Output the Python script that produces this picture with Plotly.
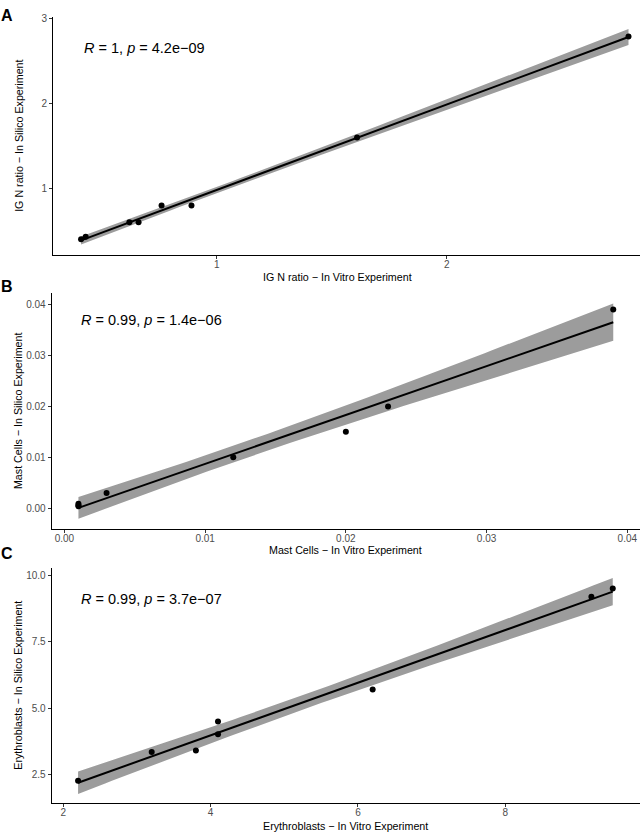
import numpy as np
import plotly.graph_objects as go

# ---------------- data ----------------
ig_vitro = [0.41, 0.43, 0.62, 0.66, 0.76, 0.89, 1.61, 2.79]
ig_silico = [0.40, 0.43, 0.60, 0.60, 0.80, 0.80, 1.60, 2.79]

mast_vitro = [0.001, 0.001, 0.001, 0.003, 0.012, 0.020, 0.023, 0.039]
mast_silico = [0.0004, 0.0006, 0.0009, 0.003, 0.010, 0.015, 0.020, 0.039]

ery_vitro = [2.20, 3.20, 3.80, 4.10, 4.10, 6.20, 9.17, 9.46]
ery_silico = [2.28, 3.36, 3.42, 4.51, 4.03, 5.71, 9.19, 9.50]

stat_labels = ["<i>R</i> = 1, <i>p</i> = 4.2e\u221209",
               "<i>R</i> = 0.99, <i>p</i> = 1.4e\u221206",
               "<i>R</i> = 0.99, <i>p</i> = 3.7e\u221207"]
x_titles = ["IG N ratio \u2212 In Vitro Experiment",
            "Mast Cells \u2212 In Vitro Experiment",
            "Erythroblasts \u2212 In Vitro Experiment"]
y_titles = ["IG N ratio \u2212 In Silico Experiment",
            "Mast Cells \u2212 In Silico Experiment",
            "Erythroblasts \u2212 In Silico Experiment"]
panel_letters = ["A", "B", "C"]

a_xticks = [1, 2]; a_xtext = ["1", "2"]
a_yticks = [1, 2, 3]; a_ytext = ["1", "2", "3"]
b_xticks = [0.0, 0.01, 0.02, 0.03, 0.04]; b_xtext = ["0.00", "0.01", "0.02", "0.03", "0.04"]
b_yticks = [0.0, 0.01, 0.02, 0.03, 0.04]; b_ytext = ["0.00", "0.01", "0.02", "0.03", "0.04"]
c_xticks = [2, 4, 6, 8]; c_xtext = ["2", "4", "6", "8"]
c_yticks = [2.5, 5.0, 7.5, 10.0]; c_ytext = ["2.5", "5.0", "7.5", "10.0"]

# t quantiles (0.975) by degrees of freedom
T975 = {1: 12.706, 2: 4.303, 3: 3.182, 4: 2.776, 5: 2.571, 6: 2.447,
        7: 2.365, 8: 2.306, 9: 2.262, 10: 2.228}

W, H = 642, 833
FONT = "Liberation Sans, Arial, sans-serif"


def lm_band(x, y):
    x = np.asarray(x, float); y = np.asarray(y, float)
    n = len(x)
    b1, b0 = np.polyfit(x, y, 1)
    resid = y - (b0 + b1 * x)
    s = np.sqrt(np.sum(resid ** 2) / (n - 2))
    xbar = x.mean(); sxx = np.sum((x - xbar) ** 2)
    xs = np.linspace(x.min(), x.max(), 80)
    yh = b0 + b1 * xs
    se = s * np.sqrt(1 / n + (xs - xbar) ** 2 / sxx)
    t = T975[n - 2]
    return xs, yh, yh - t * se, yh + t * se


fig = go.Figure()

# pixel layout of panels (left, right, top, bottom)
panels = [
    dict(x=ig_vitro, y=ig_silico, px=(53, 640, 13.3, 252), xr=[0.288, 2.84], yr=[0.218, 3.016],
         xt=(a_xticks, a_xtext), yt=(a_yticks, a_ytext), lab=(7, 12), stat=(81.7, 44),
         xtitle=(338, 274), ytitle=(19, 132.5)),
    dict(x=mast_vitro, y=mast_silico, px=(51.7, 640, 290.7, 527.7), xr=[-0.0009, 0.0409], yr=[-0.0041, 0.0422],
         xt=(b_xticks, b_xtext), yt=(b_yticks, b_ytext), lab=(7, 283.5), stat=(79, 318),
         xtitle=(345, 548.5), ytitle=(18, 409)),
    dict(x=ery_vitro, y=ery_silico, px=(51.7, 640, 566.7, 803.3), xr=[1.842, 9.83], yr=[1.43, 10.27],
         xt=(c_xticks, c_xtext), yt=(c_yticks, c_ytext), lab=(7, 552.5), stat=(79, 598),
         xtitle=(345, 825.7), ytitle=(18, 685)),
]

annotations = []
for i, p in enumerate(panels):
    k = "" if i == 0 else str(i + 1)
    xa, ya = "x" + k, "y" + k
    xs, yh, lo, hi = lm_band(p["x"], p["y"])
    fig.add_trace(go.Scatter(
        x=np.concatenate([xs, xs[::-1]]), y=np.concatenate([hi, lo[::-1]]),
        fill="toself", fillcolor="#9c9c9c", line=dict(width=0), mode="lines",
        hoverinfo="skip", showlegend=False, xaxis=xa, yaxis=ya))
    fig.add_trace(go.Scatter(x=xs, y=yh, mode="lines", line=dict(color="black", width=2),
                             showlegend=False, xaxis=xa, yaxis=ya))
    fig.add_trace(go.Scatter(x=p["x"], y=p["y"], mode="markers",
                             marker=dict(color="black", size=6), showlegend=False,
                             xaxis=xa, yaxis=ya))
    l, r, t, b = p["px"]
    axcommon = dict(showline=True, linecolor="black", linewidth=1, ticks="outside",
                    ticklen=3, tickcolor="#333333", showgrid=False, zeroline=False,
                    tickfont=dict(family=FONT, size=10, color="#4d4d4d"))
    fig.update_layout(**{
        "xaxis" + k: dict(domain=[l / W, r / W], range=p["xr"], anchor=ya,
                          tickvals=p["xt"][0], ticktext=p["xt"][1],
                          ticklabelstandoff=-3, **axcommon),
        "yaxis" + k: dict(domain=[1 - b / H, 1 - t / H], range=p["yr"], anchor=xa,
                          tickvals=p["yt"][0], ticktext=p["yt"][1], **axcommon),
    })
    annotations.append(dict(x=p["lab"][0] / W, y=1 - p["lab"][1] / H, xref="paper", yref="paper",
                            text="<b>" + panel_letters[i] + "</b>", showarrow=False,
                            xanchor="center", yanchor="middle",
                            font=dict(family=FONT, size=16, color="black")))
    annotations.append(dict(x=p["stat"][0] / W, y=1 - p["stat"][1] / H, xref="paper", yref="paper",
                            text=stat_labels[i], showarrow=False, xanchor="left", yanchor="middle",
                            font=dict(family=FONT, size=14.5, color="black")))
    annotations.append(dict(x=p["xtitle"][0] / W, y=1 - p["xtitle"][1] / H, xref="paper", yref="paper",
                            text=x_titles[i], showarrow=False, xanchor="center", yanchor="middle",
                            font=dict(family=FONT, size=10.7, color="black")))
    annotations.append(dict(x=p["ytitle"][0] / W, y=1 - p["ytitle"][1] / H, xref="paper", yref="paper",
                            text=y_titles[i], showarrow=False, xanchor="center", yanchor="middle",
                            textangle=-90, font=dict(family=FONT, size=10.7, color="black")))

fig.update_layout(width=W, height=H, margin=dict(l=0, r=0, t=0, b=0),
                  plot_bgcolor="white", paper_bgcolor="white", annotations=annotations,
                  font=dict(family=FONT))
fig.write_html("out.html", config={"displayModeBar": False},
               post_script="document.body.style.margin='0';document.body.style.padding='0';")
